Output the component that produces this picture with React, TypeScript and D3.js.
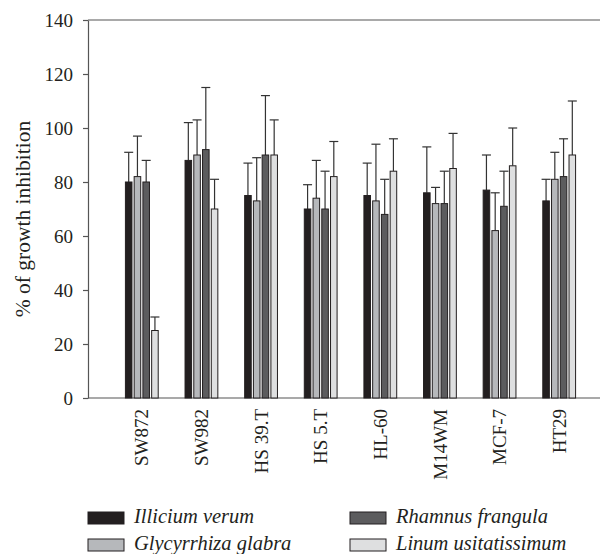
import React, { useEffect, useRef } from "react";
import * as d3 from "d3";

const categories = ["SW872", "SW982", "HS 39.T", "HS 5.T", "HL-60", "M14WM", "MCF-7", "HT29"];
const seriesNames = ["Illicium verum", "Glycyrrhiza glabra", "Rhamnus frangula", "Linum usitatissimum"];
const illicium = [80, 88, 75, 70, 75, 76, 77, 73];
const illiciumSd = [11, 14, 12, 9, 12, 17, 13, 8];
const glycyrrhiza = [82, 90, 73, 74, 73, 72, 62, 81];
const glycyrrhizaSd = [15, 13, 16, 14, 21, 6, 14, 10];
const rhamnus = [80, 92, 90, 70, 68, 72, 71, 82];
const rhamnusSd = [8, 23, 22, 14, 13, 12, 13, 14];
const linum = [25, 70, 90, 82, 84, 85, 86, 90];
const linumSd = [5, 11, 13, 13, 12, 13, 14, 20];
const yTicks = [0, 20, 40, 60, 80, 100, 120, 140];
const colors = ["#231f20", "#b6b8bb", "#5c5c5e", "#dedfe0"];

export default function App() {
    const ref = useRef<SVGSVGElement>(null);
    useEffect(() => {
        const w = 602;
        const h = 554;
        const svg = d3.select(ref.current);
        svg.selectAll("*").remove();
        const font = "'Liberation Serif', 'Times New Roman', serif";

        const values = [illicium, glycyrrhiza, rhamnus, linum];
        const sds = [illiciumSd, glycyrrhizaSd, rhamnusSd, linumSd];

        const x = d3.scaleBand().domain(categories).range([112, 589]).paddingInner(0.45).paddingOuter(0.225);
        const xs = d3.scaleBand().domain(seriesNames).range([0, x.bandwidth()]).paddingInner(0.25);
        const y = d3.scaleLinear().domain([0, 140]).range([398, 20]);

        // frame lines
        svg.append("line").attr("x1", 88).attr("x2", 600).attr("y1", y(140)).attr("y2", y(140))
            .attr("stroke", "#555").attr("stroke-width", 1.2);
        svg.append("line").attr("x1", 88).attr("x2", 600).attr("y1", y(0)).attr("y2", y(0))
            .attr("stroke", "#555").attr("stroke-width", 1.2);

        const yAxis = d3.axisLeft(y).tickValues(yTicks).tickSize(5).tickPadding(10).tickSizeOuter(0);
        const gy = svg.append("g").attr("transform", "translate(88,0)").call(yAxis);
        gy.select(".domain").attr("stroke", "#555").attr("stroke-width", 1.2);
        gy.selectAll(".tick line").attr("stroke", "#555").attr("stroke-width", 1.2);
        gy.selectAll(".tick text").attr("font-family", font).attr("font-size", 19).attr("fill", "#231f20");

        svg.append("text")
            .attr("transform", `translate(23,219) rotate(-90)`)
            .attr("text-anchor", "middle")
            .attr("dominant-baseline", "central")
            .attr("font-family", font)
            .attr("font-size", 21.5)
            .attr("fill", "#231f20")
            .text("% of growth inhibition");

        // bars
        seriesNames.forEach((name, si) => {
            const g = svg.append("g");
            categories.forEach((c, ci) => {
                const bx = (x(c) as number) + (xs(name) as number);
                const v = values[si][ci];
                const top = y(v + sds[si][ci]);
                const cx = bx + xs.bandwidth() / 2;
                g.append("line").attr("x1", cx).attr("x2", cx).attr("y1", y(v)).attr("y2", top)
                    .attr("stroke", "#333").attr("stroke-width", 1.2);
                g.append("line").attr("x1", cx - 4.5).attr("x2", cx + 4.5).attr("y1", top).attr("y2", top)
                    .attr("stroke", "#333").attr("stroke-width", 1.2);
                g.append("rect")
                    .attr("x", bx)
                    .attr("y", y(v))
                    .attr("width", xs.bandwidth())
                    .attr("height", y(0) - y(v))
                    .attr("fill", colors[si])
                    .attr("stroke", "#231f20")
                    .attr("stroke-width", 1);
            });
        });

        // category labels
        svg.append("g").selectAll("text").data(categories).join("text")
            .attr("transform", d => `translate(${(x(d) as number) + x.bandwidth() / 2},409) rotate(-90)`)
            .attr("text-anchor", "end")
            .attr("dy", "0.35em")
            .attr("font-family", font)
            .attr("font-size", 19)
            .attr("fill", "#231f20")
            .text(d => d);

        // legend
        const legendPos = [[88, 512], [88, 539], [350, 512], [350, 539]];
        seriesNames.forEach((name, i) => {
            const [lx, ly] = legendPos[i];
            svg.append("rect").attr("x", lx).attr("y", ly).attr("width", 36).attr("height", 12)
                .attr("fill", colors[i]).attr("stroke", "#231f20").attr("stroke-width", 1);
            svg.append("text").attr("x", lx + 46).attr("y", ly + 11)
                .attr("font-family", font).attr("font-style", "italic").attr("font-size", 20.5)
                .attr("fill", "#231f20").text(name);
        });

        svg.attr("width", w).attr("height", h);
    }, []);

    return <svg ref={ref} width={602} height={554} style={{ position: "absolute", left: 0, top: 0, background: "#fff" }} />;
}
